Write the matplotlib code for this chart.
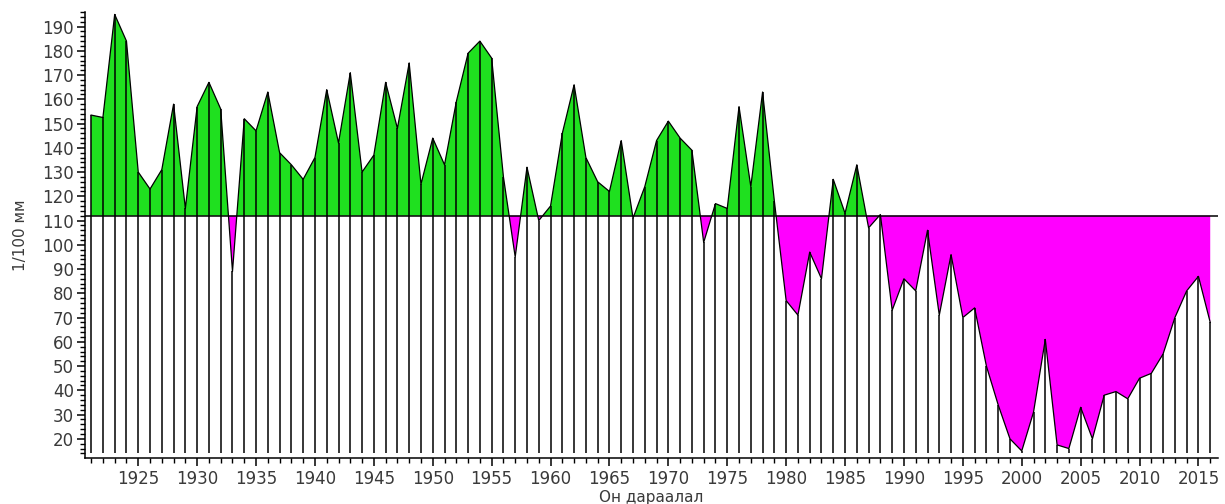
import matplotlib
matplotlib.use("Agg")
import matplotlib.pyplot as plt
from matplotlib.ticker import MultipleLocator
import numpy as np

years = list(range(1921, 2017))
values = [153.5, 152.5, 195, 184, 130, 123, 131, 158, 115, 157,
          167, 156, 89, 152, 147, 163, 138, 133, 127, 136,
          164, 142, 171, 130, 137, 167, 148, 175, 125, 144,
          133, 159, 179, 184, 177, 128, 95, 132, 110, 116,
          146, 166, 136, 126, 122, 143, 111, 124, 143, 151,
          144, 139, 101, 117, 115, 157, 124, 163, 118, 77,
          71, 97, 86, 127, 113, 133, 107, 112.5, 73, 86,
          81, 106, 71, 96, 70, 74, 50, 34, 20, 15,
          31, 61, 17.5, 16, 33, 20, 38, 39.5, 36.5, 45,
          47, 55, 70, 81, 87, 68]
baseline = 112.0
y_label = "1/100 мм"
x_label = "Он дараалал"

x = np.array(years, dtype=float)
y = np.array(values, dtype=float)

fig = plt.figure(figsize=(12.25, 5.04), dpi=100)
ax = fig.add_axes([85/1225, 46/504, (1218-85)/1225, (458-12)/504])

ax.fill_between(x, y, baseline, where=y >= baseline, interpolate=True,
                color="#1FE01F", linewidth=0, zorder=1)
ax.fill_between(x, y, baseline, where=y <= baseline, interpolate=True,
                color="#FF00FF", linewidth=0, zorder=1)
ax.vlines(x, 14, y, color="black", linewidth=1.1, zorder=2)
ax.plot(x, y, color="black", linewidth=0.9, zorder=3)
ax.axhline(baseline, color="black", linewidth=1.1, zorder=3)

ax.set_xlim(1920.48, 2016.66)
ax.set_ylim(12.1, 196)

ax.spines["top"].set_visible(False)
ax.spines["right"].set_visible(False)
ax.spines["left"].set_linewidth(1.1)
ax.spines["bottom"].set_linewidth(1.1)

ax.xaxis.set_minor_locator(MultipleLocator(1))
ax.yaxis.set_minor_locator(MultipleLocator(2))
ax.set_yticks(np.arange(20, 191, 10))
ax.set_xticks(np.arange(1925, 2016, 5))

ax.tick_params(axis="both", which="major", length=6, width=1.1,
               labelsize=12, labelcolor="#3a3a3a", direction="out")
ax.tick_params(axis="both", which="minor", length=3.5, width=1.0, direction="out")
ax.tick_params(axis="x", which="major", pad=3)
ax.tick_params(axis="y", which="major", pad=2)

ax.set_ylabel(y_label, fontsize=11, color="#3a3a3a")
ax.yaxis.set_label_coords(-57/1133, 0.5)
ax.set_xlabel(x_label, fontsize=11, color="#3a3a3a")
ax.xaxis.set_label_coords(0.5, -32/446)

fig.savefig("out.png", dpi=100)
